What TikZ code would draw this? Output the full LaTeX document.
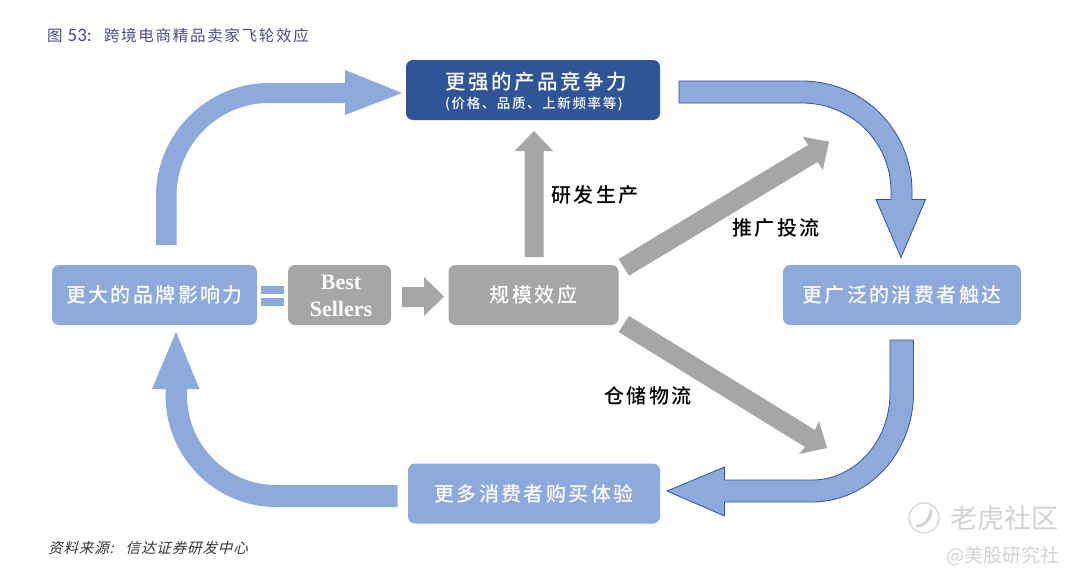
\documentclass[tikz,border=0pt]{standalone}
\usepackage{fontspec}
\setmainfont{Liberation Serif}
\newfontfamily\cjkm[LetterSpace=12]{Noto Sans CJK SC Medium}
\newfontfamily\cjkr[LetterSpace=11]{Noto Sans CJK SC}
\newfontfamily\cjks[FakeSlant=0.25,LetterSpace=6]{Noto Sans CJK SC}
\newfontfamily\cjkw{Noto Sans CJK SC}
\newfontfamily\latsans{Carlito}
\definecolor{bluef}{HTML}{8EA9DB}
\definecolor{darkf}{HTML}{2F5597}
\definecolor{grayf}{HTML}{A6A6A6}
\definecolor{titlec}{HTML}{4A4A88}
\definecolor{wmark}{HTML}{D2D2D2}
\tikzset{
  boxbase/.style={rounded corners=7pt,inner sep=0pt,text=white,align=center},
  bluebox/.style={boxbase,fill=bluef},
  darkbox/.style={boxbase,fill=darkf},
  graybox/.style={boxbase,fill=grayf},
  lab/.style={inner sep=0pt,text=black,font=\cjkm\fontsize{20}{22}\selectfont},
  boxtext/.style={font=\cjkm\fontsize{20}{22}\selectfont},
  flatarrow/.style={fill=bluef},
  linearrow/.style={fill=bluef,draw=darkf,line width=0.8pt,line join=miter},
  grayarrow/.style={fill=grayf},
}
\begin{document}
\begin{tikzpicture}[x=1pt,y=-1pt]
\useasboundingbox (0,0) rectangle (1080,581);
% boxes
\node[darkbox,minimum width=254pt,minimum height=60pt] (power) at (533,90) {};
\node[bluebox,boxtext,minimum width=205pt,minimum height=60pt] (brand) at (154.5,295) {更大的品牌影响力};
\node[graybox,minimum width=103pt,minimum height=60pt] (best) at (339.5,295) {};
\node[text=white,align=center,inner sep=0pt,font=\bfseries\fontsize{22}{27}\selectfont] (bestt) at (341,296) {Best\\Sellers};
\node[graybox,boxtext,minimum width=170pt,minimum height=60pt] (scale) at (533.5,295) {规模效应};
\node[bluebox,boxtext,minimum width=238pt,minimum height=60pt] (reach) at (902,295) {更广泛的消费者触达};
\node[bluebox,boxtext,minimum width=252pt,minimum height=60pt] (buy) at (534,493.5) {更多消费者购买体验};
\node[text=white,inner sep=0pt,font=\cjkm\fontsize{20.5}{22}\selectfont] (powera) at (536,82) {更强的产品竞争力};
\node[text=white,inner sep=0pt,font=\cjkm\fontsize{13.5}{15}\selectfont] (powerb) at (534,104) {(价格、品质、上新频率等)};
% curved block arrows
\fill[flatarrow] (156,245)--(156,196) .. controls (156,134) and (207,83) .. (269,83)--(345,83)--(345,70)--(402,93)--(345,115)--(345,103)--(269,103) .. controls (218,103) and (176.5,145) .. (176.5,196)--(176.5,245)--cycle;
\draw[linearrow] (679,81)--(802,81) .. controls (863,81) and (912,130) .. (912,191)--(912,199.5)--(925.5,199.5)--(901,257.5)--(876,199.5)--(891,199.5)--(891,191) .. controls (891,142) and (851,103) .. (802,103)--(679,103)--cycle;
\draw[linearrow] (913.5,340)--(913.5,393) .. controls (913.5,453) and (868,502) .. (812,502)--(724.5,502)--(724.5,516)--(667,491)--(724.5,467)--(724.5,480)--(812,480) .. controls (855,480) and (890,441) .. (890,393)--(890,340)--cycle;
\fill[flatarrow] (397.5,485)--(276,485) .. controls (227,485) and (187,445) .. (187,395)--(187,389)--(199.5,389)--(176,332)--(152,389)--(165.5,389)--(165.5,395) .. controls (165.5,457) and (215,507) .. (276,507)--(397.5,507)--cycle;
% equals
\fill[flatarrow] (261,286) rectangle (284,294);
\fill[flatarrow] (261,298) rectangle (284,306);
% gray arrows
\fill[grayarrow] (402,287)--(424,287)--(424,277)--(444,296.5)--(424,316)--(424,307)--(402,307)--cycle;
\fill[grayarrow] (524.5,257)--(524.5,151)--(514.5,151)--(534,131)--(553,151)--(543.5,151)--(543.5,257)--cycle;
\fill[grayarrow] (618.6,259)--(808,145)--(802.8,136.7)--(829,141.7)--(822.8,170)--(817.6,162)--(629,275.7)--cycle;
\fill[grayarrow] (629,316)--(815,430)--(819,421)--(827,448)--(799,454)--(805,447)--(618.6,332)--cycle;
% labels
\node[lab] (rd) at (595,195) {研发生产};
\node[lab] (promo) at (776,228) {推广投流};
\node[lab] (logi) at (648,396) {仓储物流};
\node[anchor=west,inner sep=0pt,text=titlec,font=\cjkr\fontsize{15.5}{18}\selectfont] (ttl) at (47,36) {图\hspace{5pt}{\latsans\fontsize{19}{18}\selectfont 53:}\hspace{12pt}跨境电商精品卖家飞轮效应};
\node[anchor=west,inner sep=0pt,text=black!80,font=\cjks\fontsize{14.5}{16}\selectfont] (src) at (48,548) {资料来源:\hspace{12pt}信达证券研发中心};
% watermark
\node[circle,draw=wmark,line width=1.2pt,minimum size=30pt,inner sep=0pt] (logo) at (924,518) {};
\draw[wmark,line width=3pt,line cap=round] (917,526) .. controls (925,526) and (930,519) .. (931,511);
\node[anchor=west,inner sep=0pt,text=wmark,font=\cjkw\fontsize{27}{30}\selectfont] (wm1) at (950,518) {老虎社区};
\node[anchor=east,inner sep=0pt,text=wmark,font=\cjkw\fontsize{19}{20}\selectfont] (wm2) at (1060,556) {@美股研究社};
\end{tikzpicture}
\end{document}
